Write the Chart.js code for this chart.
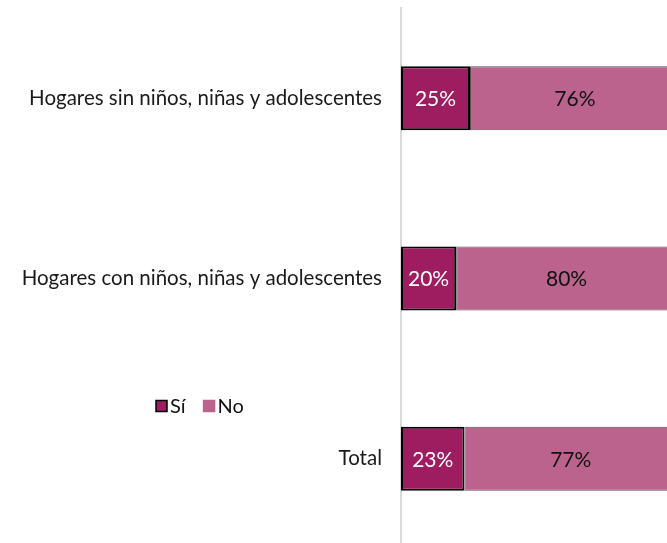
<!DOCTYPE html>
<html>
<head>
<meta charset="utf-8">
<script src="https://cdn.jsdelivr.net/npm/chart.js@4/dist/chart.umd.min.js"></script>
<style>
html,body{margin:0;padding:0;background:#fff;overflow:hidden;}
#wrap{position:relative;width:667px;height:543px;overflow:hidden;}
#c{display:block;}
</style>
</head>
<body>
<div id="wrap"><canvas id="c" width="677" height="549"></canvas></div>
<script>
const categories = ["Hogares sin niños, niñas y adolescentes", "Hogares con niños, niñas y adolescentes", "Total"];
const seriesNames = ["Sí", "No"];
const siValues = [25, 20, 23];
const noValues = [76, 80, 77];
const colors = {si: "#9E1C60", no: "#BC638D"};
const FONT = "Lato";

const labelPlugin = {
  id: 'segLabels',
  afterDatasetsDraw(chart) {
    const ctx = chart.ctx;
    ctx.save();
    ctx.font = "21px " + FONT;
    ctx.textAlign = "center";
    ctx.textBaseline = "middle";
    chart.data.datasets.forEach((ds, di) => {
      const meta = chart.getDatasetMeta(di);
      meta.data.forEach((el, i) => {
        const p = el.getProps(['x', 'y', 'base'], true);
        ctx.fillStyle = di === 0 ? "#ffffff" : "#111111";
        ctx.fillText(ds.data[i] + "%", (p.x + p.base) / 2, p.y + 1);
      });
    });
    ctx.restore();
  }
};

const legendPlugin = {
  id: 'customLegend',
  afterDraw(chart) {
    const ctx = chart.ctx;
    ctx.save();
    ctx.font = "20px " + FONT;
    ctx.textBaseline = "middle";
    const y = 406;
    let x = 156;
    const items = [
      {name: seriesNames[0], fill: colors.si, stroke: "#000"},
      {name: seriesNames[1], fill: colors.no, stroke: colors.no}
    ];
    items.forEach(it => {
      ctx.fillStyle = it.fill;
      ctx.fillRect(x, y - 5.5, 11, 11);
      ctx.strokeStyle = it.stroke;
      ctx.lineWidth = 1.5;
      ctx.strokeRect(x, y - 5.5, 11, 11);
      ctx.fillStyle = "#111";
      ctx.fillText(it.name, x + 14, y + 1);
      x += 14 + ctx.measureText(it.name).width + 18;
    });
    ctx.restore();
  }
};

new Chart(document.getElementById('c'), {
  type: 'bar',
  data: {
    labels: categories,
    datasets: [
      {label: seriesNames[0], data: siValues, backgroundColor: colors.si, borderColor: "#000", borderWidth: 2, borderSkipped: false, barPercentage: 0.355, categoryPercentage: 1},
      {label: seriesNames[1], data: noValues, backgroundColor: colors.no, borderColor: "#555", borderWidth: 1, borderSkipped: false, barPercentage: 0.355, categoryPercentage: 1}
    ]
  },
  options: {
    indexAxis: 'y',
    responsive: false,
    animation: false,
    devicePixelRatio: 1,
    layout: {padding: {top: 8, bottom: 0, left: 0, right: 0}},
    plugins: {legend: {display: false}, tooltip: {enabled: false}},
    scales: {
      x: {stacked: true, min: 0, max: 100, display: false},
      y: {
        stacked: true,
        grid: {display: false, drawTicks: false},
        border: {display: true, color: "#d9d9d9", width: 2},
        ticks: {color: "#1a1a1a", font: {family: FONT, size: 20.5}, padding: 19},
        afterFit(scale) { scale.width = 401; scale.paddingTop = 0; scale.paddingBottom = 0; }
      }
    }
  },
  plugins: [labelPlugin, legendPlugin]
});
</script>
</body>
</html>
